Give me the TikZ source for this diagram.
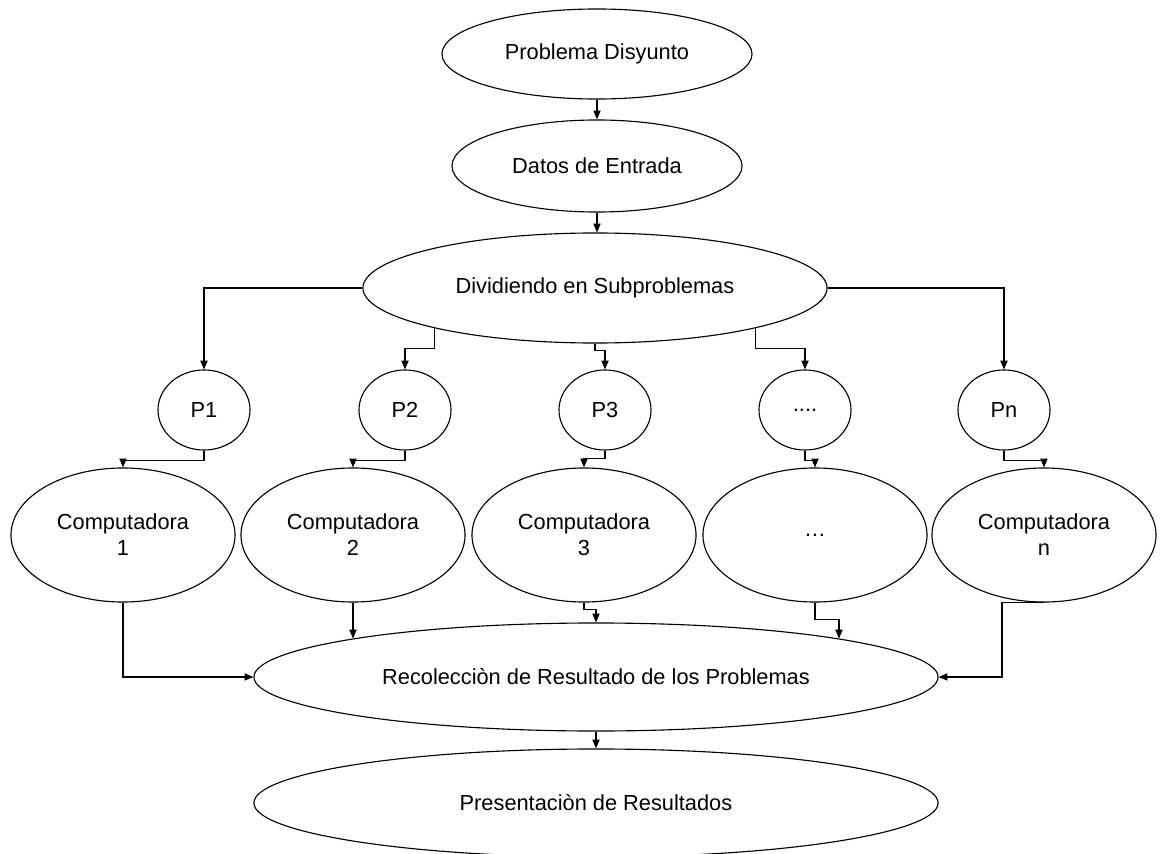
\documentclass[tikz,border=0pt]{standalone}
\usepackage{fontspec}
\setmainfont{Liberation Sans}
\usetikzlibrary{arrows.meta,calc,shapes.geometric}

\tikzset{
  bubble/.style={ellipse, draw, line width=0.8pt, inner sep=0pt, align=center,
    font=\fontsize{15.5}{18.5}\selectfont},
  link/.style={line width=0.8pt, -{Triangle[length=2.2mm,width=1.8mm]}},
}

\begin{document}
\begin{tikzpicture}[x=0.025cm, y=-0.025cm]
\useasboundingbox (0,0) rectangle (1160,854);

% top of the chain
\node[bubble, minimum width=7.75cm, minimum height=2.25cm] (prob) at (597,54) {Problema Disyunto};
\node[bubble, minimum width=7.25cm, minimum height=2.3cm] (datos) at (597,166) {Datos de Entrada};
\node[bubble, minimum width=11.6cm, minimum height=2.75cm] (div) at (595,288) {Dividiendo en Subproblemas};

% subproblems
\node[bubble, minimum width=2.3cm, minimum height=2cm] (p1) at (204,410) {P1};
\node[bubble, minimum width=2.3cm, minimum height=2cm] (p2) at (405,410) {P2};
\node[bubble, minimum width=2.3cm, minimum height=2cm] (p3) at (605,410) {P3};
\node[bubble, minimum width=2.3cm, minimum height=2cm] (p4) at (805,410) {....};
\node[bubble, minimum width=2.3cm, minimum height=2cm] (pn) at (1004,410) {Pn};

% computers
\node[bubble, minimum width=5.6cm, minimum height=3.35cm] (c1) at (123,535) {Computadora\\1};
\node[bubble, minimum width=5.6cm, minimum height=3.35cm] (c2) at (353,535) {Computadora\\2};
\node[bubble, minimum width=5.6cm, minimum height=3.35cm] (c3) at (584,535) {Computadora\\3};
\node[bubble, minimum width=5.6cm, minimum height=3.35cm] (c4) at (815,535) {…};
\node[bubble, minimum width=5.6cm, minimum height=3.35cm] (cn) at (1044,535) {Computadora\\n};

% results
\node[bubble, minimum width=17.1cm, minimum height=2.7cm] (rec) at (596,677) {Recolecciòn de Resultado de los Problemas};
\node[bubble, minimum width=17.1cm, minimum height=2.7cm] (pres) at (596,803) {Presentaciòn de Resultados};

\draw[link] (prob.south) -- (datos.north);
\draw[link] (datos.south) -- (datos.south |- div.north);

\draw[link] (div.west) -| (p1.north);
\draw[link] (div.194) -- ++(0,20) -| (p2.north);
\draw[link] (div.south) -- ++(0,7) -| (p3.north);
\draw[link] (div.346) -- ++(0,20) -| (p4.north);
\draw[link] (div.east) -| (pn.north);

\draw[link] (p1.south) -- ++(0,10) -| (c1.north);
\draw[link] (p2.south) -- ++(0,10) -| (c2.north);
\draw[link] (p3.south) -- ++(0,8) -| (c3.north);
\draw[link] (p4.south) -- ++(0,10) -| (c4.north);
\draw[link] (pn.south) -- ++(0,10) -| (cn.north);

\draw[link] (c1.south) |- (rec.west);
\draw[link] (c2.south) -- (c2.south |- rec.171);
\draw[link] (c3.south) -- ++(0,7) -| (rec.north);
\draw[link] (c4.south) -- ++(0,17) -| (rec.9);
\draw[link] (cn.south) -- ++(-42,0) |- (rec.east);

\draw[link] (rec.south) -- (pres.north);
\end{tikzpicture}
\end{document}
